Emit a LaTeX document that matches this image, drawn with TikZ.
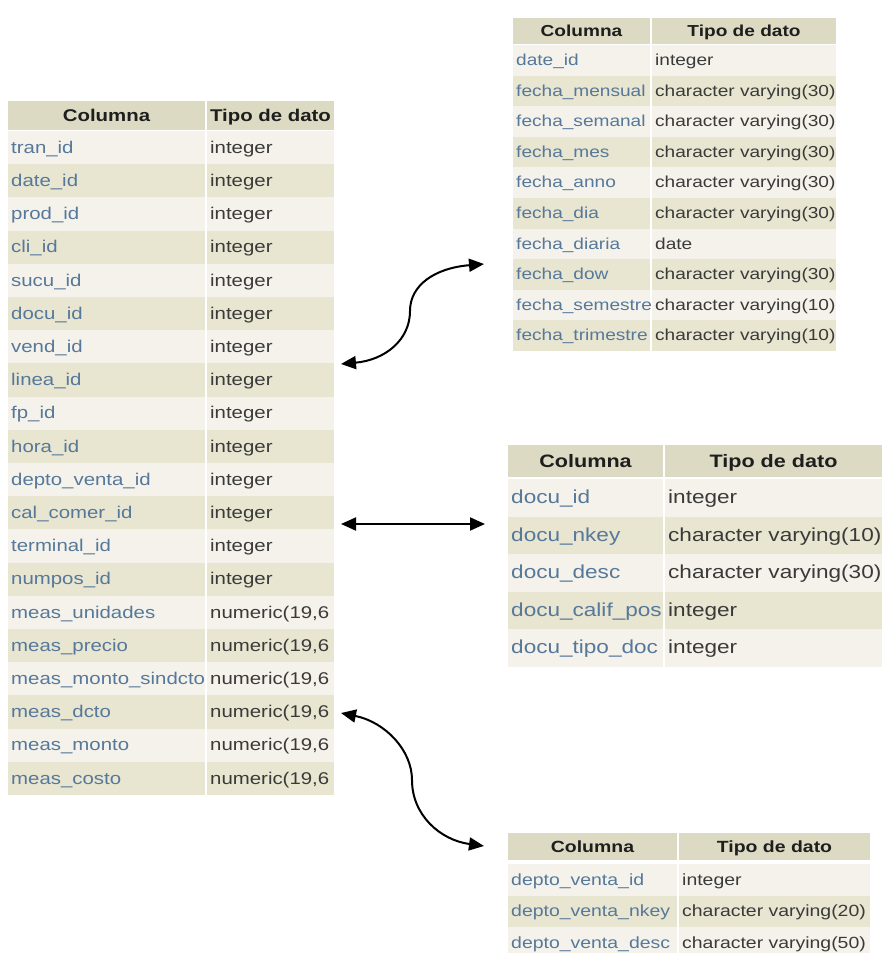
\documentclass[tikz,border=0pt]{standalone}
\usepackage{fontspec}
\newfontfamily\tabfont[FakeStretch=1.2]{Liberation Sans}
\usetikzlibrary{arrows.meta}
\definecolor{hdrbg}{HTML}{DDDAC3}
\definecolor{darkrow}{HTML}{E8E5D0}
\definecolor{lightrow}{HTML}{F4F2EA}
\definecolor{colatxt}{HTML}{56789A}
\definecolor{colbtxt}{HTML}{3A3A3A}
\definecolor{hdrtxt}{HTML}{1E1E1E}
\def\numtype{numeric(19,6}
\newcommand\dbtable[2]{%
  \pgfmathsetmacro\XA{\TX+\WA}%
  \pgfmathsetmacro\XB{\TX+\WA+\GAP}%
  \pgfmathsetmacro\XR{\XB+\WB}%
  \pgfmathsetmacro\YH{\TY+\HH}%
  \fill[hdrbg] (\TX,\TY) rectangle (\XA,\YH);
  \fill[hdrbg] (\XB,\TY) rectangle (\XR,\YH);
  \pgfmathsetmacro\YHB{\TY+\HH/2+0.36*\HFS}%
  \node[hdrlabel, anchor=base] (#1-h1) at ({(\TX+\XA)/2},\YHB) {Columna};
  \node[hdrlabel, anchor=base] (#1-h2) at ({(\XB+\XR)/2},\YHB) {Tipo de dato};
  \foreach \ca/\cb [count=\i] in {#2} {%
    \pgfmathsetmacro\RT{\TY+\HH+\GAPR+(\i-1)*\RH}%
    \pgfmathsetmacro\RB{\RT+\RH}%
    \pgfmathsetmacro\BL{\RT+\RH/2+0.33*\FS}%
    \ifodd\i\relax\def\rowcol{lightrow}\else\def\rowcol{darkrow}\fi
    \fill[fill=\rowcol] (\TX,\RT) rectangle (\XA,\RB);
    \fill[fill=\rowcol] (\XB,\RT) rectangle (\XR,\RB);
    \node[colalabel, anchor=base west] (#1-\i-a) at ({\TX+3},\BL) {\ca};
    \node[colblabel, anchor=base west] (#1-\i-b) at ({\XB+3},\BL) {\cb};
  }%
}
\begin{document}
\begin{tikzpicture}[x=1pt, y=-1pt,
  hdrlabel/.style={inner sep=0pt, text=hdrtxt, font=\tabfont\bfseries\fontsize{\HFS}{\HFS}\selectfont},
  colalabel/.style={inner sep=0pt, text=colatxt, font=\tabfont\fontsize{\FS}{\FS}\selectfont},
  colblabel/.style={inner sep=0pt, text=colbtxt, font=\tabfont\fontsize{\FS}{\FS}\selectfont},
  conn/.style={line width=2pt, <->, >={Triangle[length=15pt,width=13pt]}}]
\fill[white] (0,0) rectangle (882,953);
\useasboundingbox (0,0) rectangle (882,953);

% left fact table
\def\TX{8}\def\TY{101}\def\WA{197}\def\GAP{2}\def\WB{127}
\def\HH{29}\def\GAPR{1}\def\RH{33.2}\def\FS{17}\def\HFS{17}
\dbtable{L}{tran\_id/integer, date\_id/integer, prod\_id/integer, cli\_id/integer,
  sucu\_id/integer, docu\_id/integer, vend\_id/integer, linea\_id/integer,
  fp\_id/integer, hora\_id/integer, depto\_venta\_id/integer, cal\_comer\_id/integer,
  terminal\_id/integer, numpos\_id/integer, meas\_unidades/\numtype,
  meas\_precio/\numtype, meas\_monto\_sindcto/\numtype, meas\_dcto/\numtype,
  meas\_monto/\numtype, meas\_costo/\numtype}

% top right: date dimension
\def\TX{513}\def\TY{18}\def\WA{137}\def\GAP{2}\def\WB{184}
\def\HH{26}\def\GAPR{1}\def\RH{30.6}\def\FS{15.9}\def\HFS{15.9}
\dbtable{T}{date\_id/integer, fecha\_mensual/character varying(30),
  fecha\_semanal/character varying(30), fecha\_mes/character varying(30),
  fecha\_anno/character varying(30), fecha\_dia/character varying(30),
  fecha\_diaria/date, fecha\_dow/character varying(30),
  fecha\_semestre/character varying(10), fecha\_trimestre/character varying(10)}

% middle right: documento dimension
\def\TX{508}\def\TY{445}\def\WA{155}\def\GAP{2}\def\WB{217}
\def\HH{32}\def\GAPR{2}\def\RH{37.5}\def\FS{18.8}\def\HFS{18}
\dbtable{M}{docu\_id/integer, docu\_nkey/character varying(10),
  docu\_desc/character varying(30), docu\_calif\_pos/integer, docu\_tipo\_doc/integer}

% bottom right: depto venta dimension
\def\TX{508}\def\TY{833}\def\WA{169}\def\GAP{2}\def\WB{191}
\def\HH{27}\def\GAPR{4}\def\RH{31.5}\def\FS{16.2}\def\HFS{16.2}
\dbtable{B}{depto\_venta\_id/integer, depto\_venta\_nkey/character varying(20),
  depto\_venta\_desc/character varying(50)}

% connectors
\coordinate (a1s) at (341,364);
\coordinate (a1m) at (410,311);
\coordinate (a1e) at (484,264);
\draw[conn] (a1s) .. controls (385,360) and (410,340) .. (a1m)
  .. controls (410,285) and (435,268) .. (a1e);

\coordinate (a2s) at (341,524);
\coordinate (a2e) at (485,524);
\draw[conn] (a2s) -- (a2e);

\coordinate (a3s) at (341,713);
\coordinate (a3m) at (412,780);
\coordinate (a3e) at (484,846);
\draw[conn] (a3s) .. controls (385,722) and (412,750) .. (a3m)
  .. controls (412,815) and (440,840) .. (a3e);
\end{tikzpicture}
\end{document}
